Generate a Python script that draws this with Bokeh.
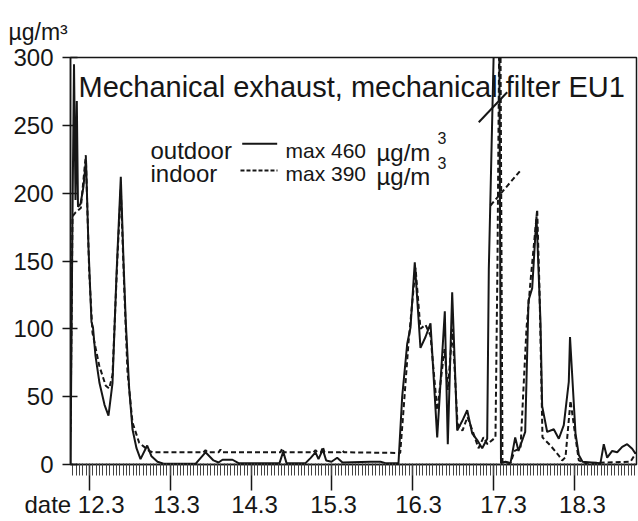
from bokeh.plotting import figure
from bokeh.models import (Range1d, FixedTicker, Label, LinearAxis,
                          CustomJSTickFormatter)
from bokeh.embed import file_html
from bokeh.resources import INLINE

FONT = "Liberation Sans"
INK = "#161616"

# time in hours after 12.3 00:00, concentration in ug/m3
outdoor_hours = [-5.64, -5.05, -4.60, -4.16, -3.77, -3.42, -2.67, -1.78, -1.04, -0.30,
                 0.59, 1.04, 1.78, 2.97, 4.46, 5.64, 6.83, 8.02, 9.30, 10.10,
                 10.78, 11.79, 12.77, 13.96, 15.15, 17.14, 18.42, 20.20, 21.98, 31.49,
                 34.46, 36.83, 38.32, 39.51, 42.48, 44.26, 56.44, 57.54, 58.52, 64.16,
                 65.64, 67.13, 68.02, 69.30, 70.31, 71.88, 73.57, 75.15, 83.47, 86.44,
                 87.92, 91.78, 92.88, 94.37, 95.35, 96.62, 98.31, 99.80, 101.29, 103.28,
                 105.54, 106.43, 107.73, 109.22, 110.70, 112.19, 113.67, 115.16, 116.64, 118.13,
                 118.61, 121.49, 122.23, 123.57, 125.05, 126.45, 127.43, 129.42, 130.40, 131.50,
                 132.77, 133.96, 134.46, 135.95, 137.91, 139.40, 140.88, 142.37, 142.73, 144.36,
                 145.34, 146.44, 151.78, 152.76, 153.77, 155.26, 156.74, 158.23, 159.71, 161.20,
                 162.18]
outdoor_values = [0, 185, 295, 195, 268, 190, 192, 205, 225, 160,
                  105, 101, 80, 60, 44, 36, 60, 140, 212, 150,
                  105, 56, 26, 12, 4, 14, 6, 2, 0.5, 0.5,
                  9, 3, 1.5, 3.5, 3.5, 1, 1, 9.5, 1, 1,
                  4.7, 9, 4, 11, 3, 2, 5, 1.5, 2, 2,
                  1, 1, 50, 89, 101, 149, 86, 94, 104, 20,
                  113, 15, 127, 25, 32, 40, 23, 18, 12, 19,
                  144, 460, 1, 2, 1, 20, 10, 24, 121, 130,
                  183, 105, 43, 24, 26, 19, 29, 61, 94, 23,
                  7, 2, 1, 15, 5, 10, 9, 13, 15, 11.6,
                  8]

indoor_hours = [-5.64, -5.05, -4.07, -2.58, -1.10, -0.09, 0.89, 2.88, 4.84, 5.85,
                6.83, 8.32, 9.30, 10.31, 11.29, 12.77, 14.76, 17.73, 18.71, 33.86,
                34.46, 35.05, 38.32, 38.91, 39.51, 56.73, 57.24, 57.77, 66.54, 67.13,
                67.73, 68.76, 69.30, 69.80, 74.55, 75.06, 75.60, 92.29, 93.27, 94.76,
                96.84, 98.31, 99.80, 101.29, 103.28, 105.45, 106.43, 107.82, 109.31, 110.79,
                112.28, 113.76, 115.55, 117.03, 118.22, 120.59, 121.19, 121.93, 122.67, 125.05,
                126.24, 128.02, 129.80, 130.99, 132.98, 133.66, 134.55, 136.92, 139.40, 140.41,
                141.39, 142.88, 144.36, 145.34, 147.33, 160.69, 162.47]
indoor_values = [24, 183, 186, 189, 228, 142, 97, 73, 58, 56,
                 66, 154, 203, 130, 68, 31, 16, 10, 9, 9,
                 10.5, 9, 9, 11, 9, 9, 12, 9, 9, 10.5,
                 9, 9, 13, 9, 9, 10.5, 9, 8.5, 40, 90,
                 145, 100, 103, 95, 40, 85, 55, 100, 30, 25,
                 35, 25, 12, 20, 15, 20, 150, 390, 2, 1,
                 10, 12, 100, 135, 188, 130, 20, 14, 6.6, 3,
                 5.4, 47, 20, 3, 1, 2, 9]

date_ticks = [0, 24, 48, 72, 96, 120, 144]          # 12.3 ... 18.3 at 00:00
date_labels = ["12.3", "13.3", "14.3", "15.3", "16.3", "17.3", "18.3"]
date_label_pos = [-4.46, 25.84, 49.01, 72.5, 97.72, 122.97, 146.43]
axis_name = "date"
conc_ticks = [0, 50, 100, 150, 200, 250, 300]
hour_ticks = list(range(-5, 163))

p = figure(width=638, height=521, output_backend="svg", toolbar_location=None,
           x_range=Range1d(-5.644, 162.48), y_range=Range1d(0, 300),
           min_border_left=70, min_border_right=2, min_border_top=57, min_border_bottom=57,
           background_fill_color="white", border_fill_color="white")
p.grid.visible = False
p.outline_line_color = INK
p.outline_line_width = 1.5

p.title.text = "µg/m³"
p.title.align = "left"
p.title.vertical_align = "bottom"
p.title.offset = -62
p.title.standoff = 26
p.title.text_line_height = 0.8
p.title.text_font = FONT
p.title.text_font_size = "23px"
p.title.text_font_style = "normal"
p.title.text_color = INK

p.line(outdoor_hours, outdoor_values, line_color=INK, line_width=2)
p.line(indoor_hours, indoor_values, line_color=INK, line_width=2, line_dash="5 3")

# break marks of the off-scale peaks
p.segment(x0=[115.63], y0=[252.3], x1=[124.07], y1=[274.4], line_color=INK, line_width=2)
p.segment(x0=[119.11], y0=[190.9], x1=[128.02], y1=[216.7], line_color=INK, line_width=2,
          line_dash="5 3")

xa = p.xaxis[0]
xa.ticker = FixedTicker(ticks=date_ticks, minor_ticks=hour_ticks)
xa.axis_line_color = INK
xa.axis_line_width = 1.5
xa.major_tick_in = 0
xa.major_tick_out = 26
xa.major_tick_line_color = INK
xa.major_tick_line_width = 1.5
xa.minor_tick_in = 1
xa.minor_tick_out = 11
xa.minor_tick_line_color = "#444444"
xa.minor_tick_line_width = 1
xa.major_label_standoff = 0
xa.major_label_text_font_size = "1px"
xa.major_label_text_alpha = 0

shown = [axis_name + " " + date_labels[0]] + date_labels[1:]
lab_axis = LinearAxis(ticker=FixedTicker(ticks=date_label_pos),
                      formatter=CustomJSTickFormatter(args=dict(labels=shown),
                                                      code="return labels[index];"))
lab_axis.axis_line_color = None
lab_axis.major_tick_line_color = None
lab_axis.minor_tick_line_color = None
lab_axis.major_tick_in = 0
lab_axis.major_tick_out = 0
lab_axis.major_label_standoff = 0
lab_axis.major_label_text_font = FONT
lab_axis.major_label_text_font_size = "24px"
lab_axis.major_label_text_color = INK
p.add_layout(lab_axis, "below")

ya = p.yaxis[0]
ya.ticker = FixedTicker(ticks=conc_ticks)
ya.axis_line_color = INK
ya.axis_line_width = 1.5
ya.major_tick_in = 7
ya.major_tick_out = 8
ya.major_tick_line_color = INK
ya.major_tick_line_width = 1.5
ya.minor_tick_line_color = None
ya.major_label_standoff = 9
ya.major_label_text_font = FONT
ya.major_label_text_font_size = "24px"
ya.major_label_text_color = INK


def lab(x, y, t, size, align="left"):
    p.add_layout(Label(x=x, y=y, text=t, text_font=FONT, text_font_size=size,
                       text_color=INK, text_align=align, text_baseline="alphabetic"))


lab(-3.27, 277.9, "Mechanical exhaust, mechanical filter EU1", "29px")

# legend
lab(18.12, 231.4, "outdoor", "24px")
lab(18.12, 214.5, "indoor", "24px")
p.segment(x0=[45.36], y0=[236.4], x1=[55.75], y1=[236.4], line_color=INK, line_width=2)
p.segment(x0=[44.85], y0=[216.7], x1=[55.84], y1=[216.7], line_color=INK, line_width=2,
          line_dash="4 2")
lab(58.22, 231.4, "max 460", "21px")
lab(58.22, 214.5, "max 390", "21px")
lab(85.25, 229.9, "µg/m", "24px")
lab(85.25, 212.3, "µg/m", "24px")
lab(103.37, 241.0, "3", "16px")
lab(103.37, 221.9, "3", "16px")

open("out.html", "w").write(file_html(p, INLINE))
